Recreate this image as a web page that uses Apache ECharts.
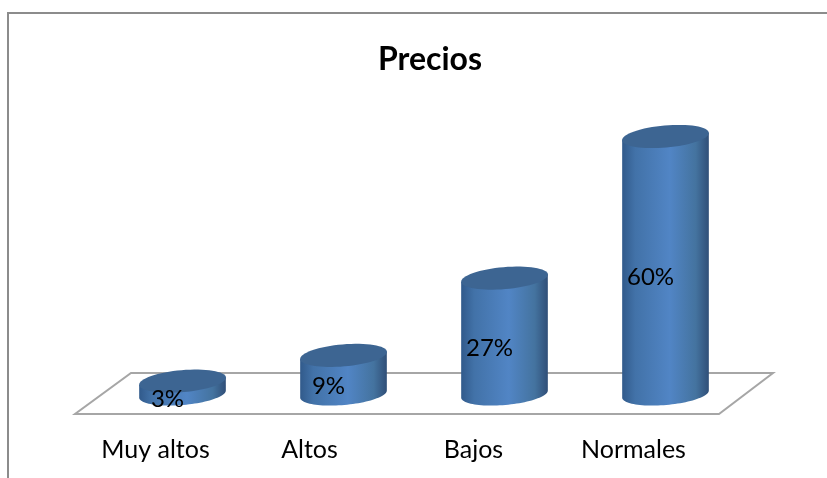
<!DOCTYPE html>
<html><head><meta charset="utf-8">
<style>html,body{margin:0;padding:0;background:#fff}#c{width:827px;height:478px}</style>
<script src="https://cdn.jsdelivr.net/npm/echarts@6/dist/echarts.min.js"></script>
</head><body><div id="c"></div>
<script>
const titleText = 'Precios';
const categories = ['Muy altos', 'Altos', 'Bajos', 'Normales'];
const values = [3, 9, 27, 60];
const labelShift = { 'Muy altos': 3, 'Altos': -4, 'Bajos': -1, 'Normales': -2 };

const chart = echarts.init(document.getElementById('c'), null, { renderer: 'canvas' });
const FONT = 'Lato, Carlito, Calibri, sans-serif';
const DEPTH = 30, RX = 43.5, RY = 11, TILT = 5 * Math.PI / 180;

function ellipsePoint(cx, cy, t) {
  const ex = RX * Math.cos(t), ey = RY * Math.sin(t);
  return [cx + ex * Math.cos(TILT) + ey * Math.sin(TILT), cy - ex * Math.sin(TILT) + ey * Math.cos(TILT)];
}
function ellipsePts(cx, cy, from, to, n) {
  const p = [];
  for (let i = 0; i <= n; i++) p.push(ellipsePoint(cx, cy, from + (to - from) * i / n));
  return p;
}
function renderCyl(params, api) {
  const base = api.coord([api.value(0), 0]);
  const top = api.coord([api.value(0), api.value(1)]);
  const mid = api.coord([api.value(0), api.value(1) / 2]);
  const cx = base[0] + DEPTH;
  const bodyPts = [ellipsePoint(cx, top[1], Math.PI)]
    .concat(ellipsePts(cx, base[1], Math.PI, 0, 48))
    .concat([ellipsePoint(cx, top[1], 0)]);
  const grad = new echarts.graphic.LinearGradient(0, 0, 1, 0, [
    { offset: 0, color: '#315a8b' },
    { offset: 0.15, color: '#4272a8' },
    { offset: 0.55, color: '#5185c5' },
    { offset: 0.85, color: '#44739f' },
    { offset: 1, color: '#304f78' }
  ]);
  return {
    type: 'group',
    children: [
      { type: 'polygon', shape: { points: bodyPts }, style: { fill: grad } },
      { type: 'polygon', shape: { points: ellipsePts(cx, top[1], 0, Math.PI * 2, 64) }, style: { fill: '#3d6592' } },
      { type: 'text', x: cx - 15, y: mid[1] + 12,
        style: { text: api.value(1) + '%', fill: '#000', font: '24px ' + FONT, align: 'center', verticalAlign: 'middle' }, z2: 10 }
    ]
  };
}

chart.setOption({
  animation: false,
  backgroundColor: '#fff',
  title: {
    text: titleText, left: 425, top: 39, textAlign: 'center',
    textStyle: { fontFamily: FONT, fontWeight: 'bold', fontSize: 32, color: '#000' }
  },
  grid: { left: 72, width: 644, top: 136.5, bottom: 84 },
  xAxis: {
    type: 'category', data: categories,
    axisLine: { show: false }, axisTick: { show: false }, splitLine: { show: false },
    axisLabel: {
      margin: 43, interval: 0,
      formatter: v => {
        const s = labelShift[v];
        return '{' + (s < 0 ? 'l' : 'r') + Math.abs(s) + '|' + v + '}';
      },
      rich: {
        r3: { fontFamily: FONT, fontSize: 25, color: '#000', padding: [0, 0, 0, 6] },
        l4: { fontFamily: FONT, fontSize: 25, color: '#000', padding: [0, 8, 0, 0] },
        l1: { fontFamily: FONT, fontSize: 25, color: '#000', padding: [0, 2, 0, 0] },
        l2: { fontFamily: FONT, fontSize: 25, color: '#000', padding: [0, 4, 0, 0] }
      }
    }
  },
  yAxis: { type: 'value', min: 0, max: 60, show: false },
  series: [{
    type: 'custom', renderItem: renderCyl, clip: false,
    encode: { x: 0, y: 1 },
    data: categories.map((c, i) => [i, values[i]])
  }],
  graphic: [
    { type: 'polygon', z: 0, silent: true,
      shape: { points: [[75, 414], [719, 414], [773, 373], [131, 373]] },
      style: { fill: '#fff', stroke: '#a6a6a6', lineWidth: 2 } },
    { type: 'polyline', z: 0, silent: true,
      shape: { points: [[8, 478], [8, 13], [827, 13]] },
      style: { fill: null, stroke: '#8c8c8c', lineWidth: 2 } }
  ]
});
</script></body></html>
